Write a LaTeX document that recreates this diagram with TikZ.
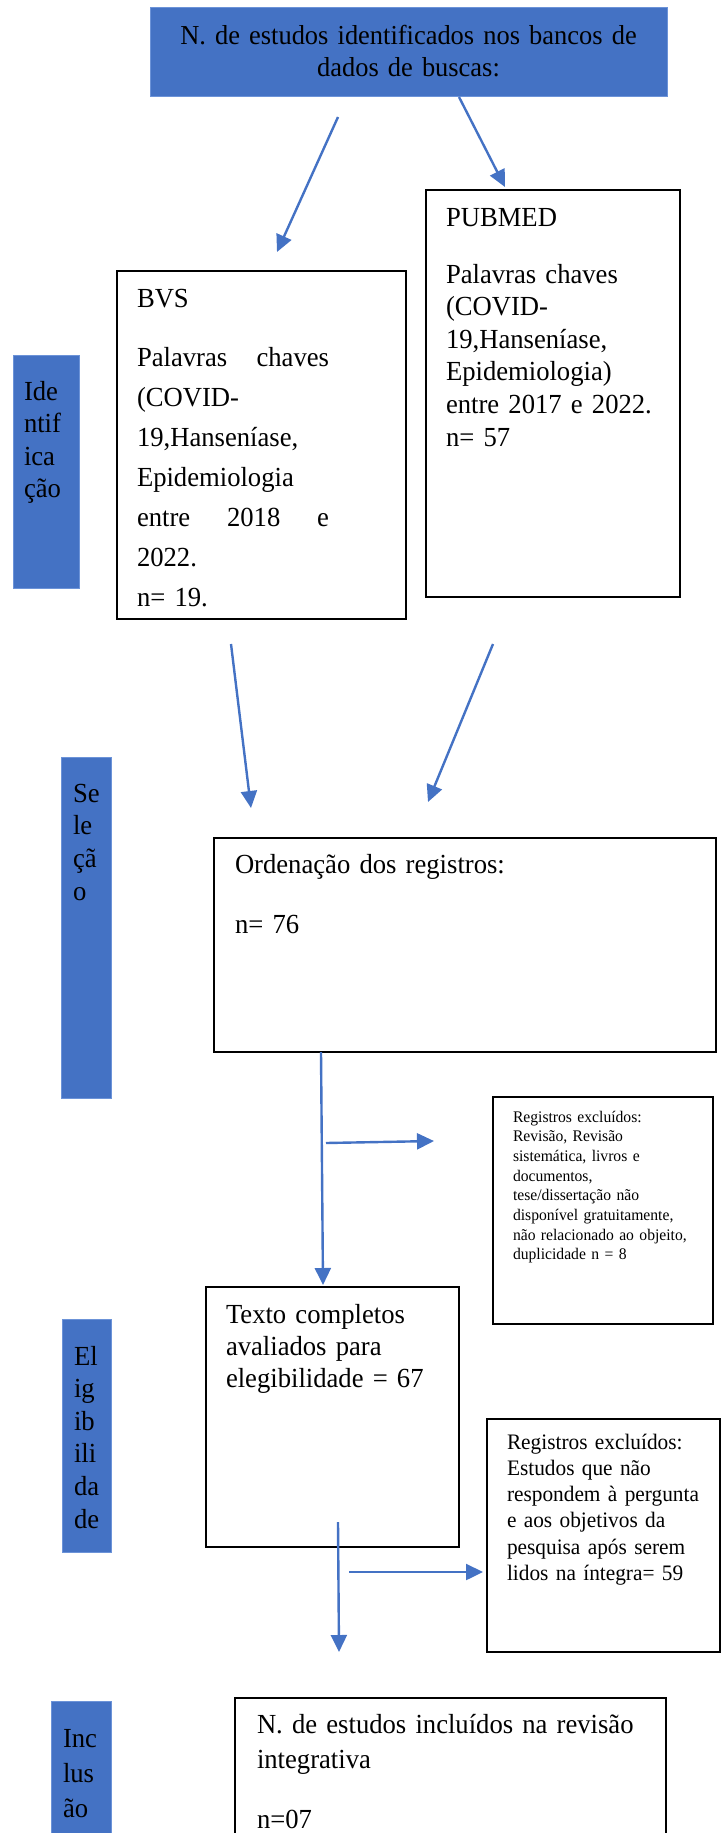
\documentclass[tikz,border=0pt]{standalone}
\usepackage{fontspec}
\setmainfont{Liberation Serif}[FakeStretch=0.965]
\usetikzlibrary{arrows.meta}
\definecolor{obl}{HTML}{4472C4}
\definecolor{obord}{HTML}{6C93D8}
\tikzset{
  box/.style={draw=black, line width=2.2pt, inner sep=0pt, outer sep=0pt, anchor=north west},
  bluebox/.style={fill=obl, draw=obord, line width=1pt, inner sep=0pt, outer sep=0pt, anchor=north west},
  txt/.style={inner sep=0pt, outer sep=0pt, anchor=base west, align=left, text=black},
  arr/.style={draw=obl, line width=2.4pt, -{Triangle[length=17pt,width=16pt]}},
}
\newcommand\fsz[2]{\fontsize{#1}{#2}\selectfont}
\begin{document}
\begin{tikzpicture}[x=1pt,y=-1pt]
\useasboundingbox (0,0) rectangle (724,1833);
\clip (0,0) rectangle (724,1833);

% top box
\node[bluebox, minimum width=517pt, minimum height=89pt] (top) at (150,8) {};
\node[txt, anchor=base, text width=500pt, align=center, font=\fsz{27.4}{32}] (toptxt) at (408.5,45)
  {N. de estudos identificados nos bancos de\\dados de buscas:};

% side bars
\node[bluebox, minimum width=66pt, minimum height=233pt] (ident) at (13,355) {};
\node[txt, text width=60pt, font=\fsz{27.6}{32.5}] (identt) at (24,400) {Ide\\ntif\\ica\\ção};
\node[bluebox, minimum width=50pt, minimum height=341pt] (sel) at (61,757) {};
\node[txt, text width=45pt, font=\fsz{27.6}{32.7}] (selt) at (73,802) {Se\\le\\çã\\o};
\node[bluebox, minimum width=49pt, minimum height=233pt] (eleg) at (62,1319) {};
\node[txt, text width=45pt, font=\fsz{27.6}{32.6}] (elegt) at (74,1365) {El\\ig\\ib\\ili\\da\\de};
\node[bluebox, minimum width=60pt, minimum height=150pt] (incl) at (51,1701) {};
\node[txt, text width=55pt, font=\fsz{27.6}{35}] (inclt) at (63,1747) {Inc\\lus\\ão};

% BVS
\node[box, minimum width=289pt, minimum height=348pt] (bvs) at (117,271) {};
\node[txt, text width=200pt, font=\fsz{27.6}{40}] (bvst) at (137,307)
  {BVS\\[19pt]\makebox[192pt][l]{Palavras\hfill chaves}\\(COVID-\\19,Hanseníase,\\Epidemiologia\\\makebox[192pt][l]{entre\hfill 2018\hfill e}\\2022.\\n= 19.};

% PUBMED
\node[box, minimum width=254pt, minimum height=407pt] (pub) at (426,190) {};
\node[txt, text width=230pt, font=\fsz{27.6}{32.6}] (pubt) at (446,226)
  {PUBMED\\[24.5pt]Palavras chaves\\(COVID-\\19,Hanseníase,\\Epidemiologia)\\entre 2017 e 2022.\\n= 57};

% Ordenacao
\node[box, minimum width=502pt, minimum height=214pt] (ord) at (214,838) {};
\node[txt, text width=400pt, font=\fsz{27.6}{32.5}] (ordt) at (235,873)
  {Ordenação dos registros:\\[27.5pt]n= 76};

% Registros excluidos 1
\node[box, minimum width=220pt, minimum height=227pt] (reg1) at (493,1097) {};
\node[txt, text width=200pt, font=\fsz{16.2}{19.7}] (reg1t) at (513,1122)
  {Registros excluídos:\\Revisão, Revisão\\sistemática, livros e\\documentos,\\tese/dissertação não\\disponível gratuitamente,\\não relacionado ao objeito,\\duplicidade n = 8};

% Texto completos
\node[box, minimum width=253pt, minimum height=260pt] (texto) at (206,1287) {};
\node[txt, text width=230pt, font=\fsz{27.6}{32}] (textot) at (226,1323)
  {Texto completos\\avaliados para\\elegibilidade = 67};

% Registros excluidos 2
\node[box, minimum width=233pt, minimum height=233pt] (reg2) at (487,1419) {};
\node[txt, text width=215pt, font=\fsz{22.1}{26.3}] (reg2t) at (507,1449)
  {Registros excluídos:\\Estudos que não\\respondem à pergunta\\e aos objetivos da\\pesquisa após serem\\lidos na íntegra= 59};

% Inclusao
\node[box, minimum width=431pt, minimum height=160pt] (fin) at (235,1698) {};
\node[txt, text width=420pt, font=\fsz{27.6}{35}] (fint) at (257,1733)
  {N. de estudos incluídos na revisão\\integrativa\\[25pt]n=07};

% arrows
\coordinate (a1s) at (338,117); \coordinate (a1e) at (277,252);
\coordinate (a2s) at (459,97);  \coordinate (a2e) at (505,187);
\coordinate (a3s) at (231,644); \coordinate (a3e) at (251,808);
\coordinate (a4s) at (493,644); \coordinate (a4e) at (428,802);
\coordinate (v1s) at (321,1052); \coordinate (v1e) at (323,1285);
\coordinate (h1s) at (326,1143); \coordinate (h1e) at (434,1141);
\coordinate (v2s) at (338,1522); \coordinate (v2e) at (339,1652);
\coordinate (h2s) at (349,1572); \coordinate (h2e) at (483,1572);

\draw[arr] (a1s) -- (a1e);
\draw[arr] (a2s) -- (a2e);
\draw[arr] (a3s) -- (a3e);
\draw[arr] (a4s) -- (a4e);
\draw[arr] (v1s) -- (v1e);
\draw[arr] (h1s) -- (h1e);
\draw[arr] (v2s) -- (v2e);
\draw[arr] (h2s) -- (h2e);
\end{tikzpicture}
\end{document}
